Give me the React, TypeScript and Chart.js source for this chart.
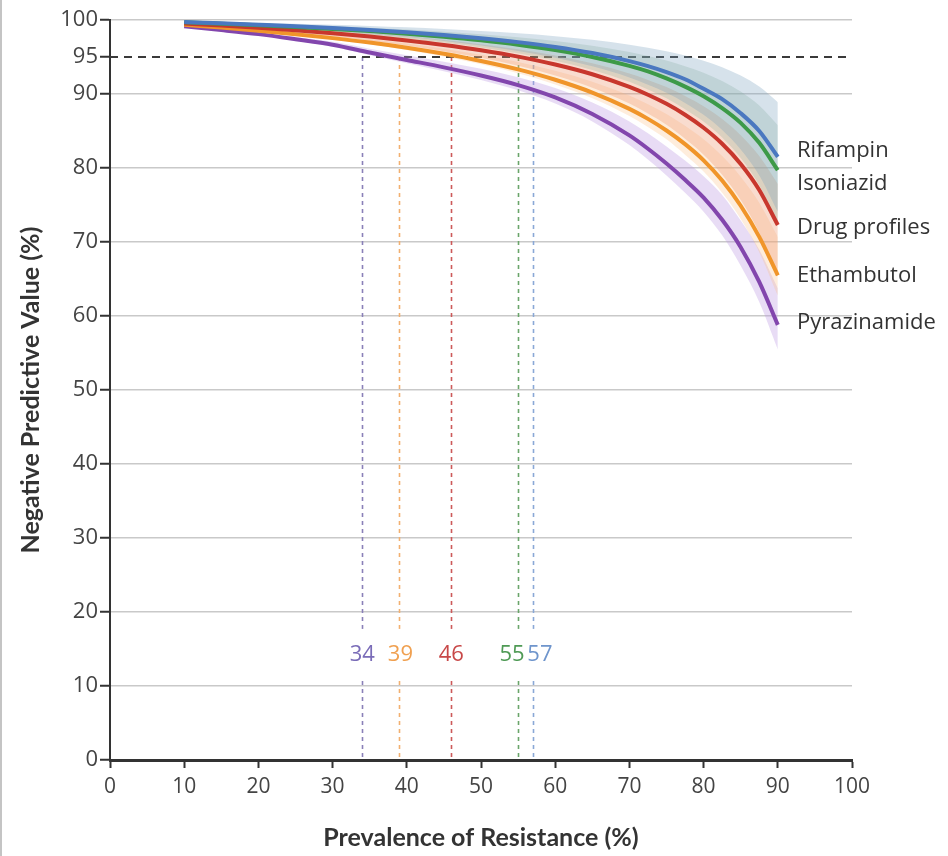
import { useEffect, useRef } from "react";
import { Chart, registerables } from "chart.js";

Chart.register(...registerables);

// ---- data ----
const prevalence = [10, 15, 20, 25, 30, 35, 40, 45, 50, 55, 60, 65, 70, 72.5, 75, 77.5, 80, 82.5, 85, 87.5, 90];

const rifampin = [99.72, 99.56, 99.37, 99.17, 98.93, 98.66, 98.35, 97.98, 97.54, 97.01, 96.36, 95.53, 94.45, 93.77, 92.97, 92.0, 90.7, 89.3, 87.4, 85.0, 81.5];
const isoniazid = [99.69, 99.5, 99.3, 99.07, 98.8, 98.5, 98.15, 97.74, 97.25, 96.66, 95.93, 95.01, 93.81, 93.05, 92.1, 91.0, 89.7, 88.1, 86.1, 83.4, 79.7];
const drugProfiles = [99.53, 99.25, 98.95, 98.6, 98.21, 97.76, 97.24, 96.63, 95.91, 95.05, 93.99, 92.67, 90.96, 89.9, 88.67, 87.2, 85.44, 83.28, 80.55, 77.03, 72.3];
const ethambutol = [99.35, 98.98, 98.56, 98.09, 97.55, 96.95, 96.25, 95.43, 94.47, 93.33, 91.93, 90.2, 87.99, 86.64, 85.07, 83.23, 81.04, 78.3, 74.9, 70.7, 65.5];
const pyrazinamide = [99.14, 98.64, 98.09, 97.4, 96.65, 95.6, 94.6, 93.6, 92.5, 91.2, 89.54, 87.3, 84.4, 82.6, 80.6, 78.4, 76.0, 73.0, 69.3, 64.6, 58.8];

const rifampinUpper = [99.83, 99.74, 99.62, 99.5, 99.36, 99.2, 99.01, 98.79, 98.52, 98.21, 97.82, 97.32, 96.67, 96.25, 95.78, 95.2, 94.5, 93.63, 92.5, 91.0, 88.9];
const rifampinLower = [99.61, 99.38, 99.12, 98.84, 98.5, 98.12, 97.69, 97.17, 96.56, 95.81, 94.9, 93.74, 92.23, 91.25, 90.16, 88.8, 87.18, 85.13, 82.5, 79.0, 74.1];
const isoniazidUpper = [99.78, 99.65, 99.51, 99.35, 99.16, 98.95, 98.7, 98.42, 98.07, 97.66, 97.15, 96.51, 95.67, 95.13, 94.52, 93.76, 92.88, 91.76, 90.33, 88.43, 85.79];
const isoniazidLower = [99.58, 99.32, 99.05, 98.74, 98.38, 97.97, 97.5, 96.95, 96.29, 95.49, 94.51, 93.26, 91.64, 90.6, 89.43, 87.95, 86.27, 84.11, 81.34, 77.68, 72.6];
const drugProfilesUpper = [99.62, 99.4, 99.16, 98.88, 98.57, 98.21, 97.79, 97.3, 96.73, 96.04, 95.19, 94.14, 92.77, 91.9, 90.94, 89.72, 88.35, 86.62, 84.44, 81.62, 77.83];
const drugProfilesLower = [99.41, 99.06, 98.69, 98.25, 97.76, 97.2, 96.55, 95.79, 94.89, 93.81, 92.49, 90.84, 88.7, 87.35, 85.84, 83.95, 81.8, 79.1, 75.69, 71.29, 65.36];
const ethambutolUpper = [99.45, 99.13, 98.78, 98.38, 97.92, 97.41, 96.81, 96.12, 95.3, 94.33, 93.14, 91.67, 89.79, 88.62, 87.31, 85.7, 83.88, 81.62, 78.83, 75.31, 70.68];
const ethambutolLower = [99.3, 98.9, 98.44, 97.94, 97.35, 96.71, 95.95, 95.06, 94.03, 92.8, 91.28, 89.42, 87.03, 85.55, 83.88, 81.8, 79.52, 76.65, 73.11, 68.63, 62.75];
const pyrazinamideUpper = [99.24, 98.8, 98.32, 97.71, 97.05, 96.13, 95.25, 94.37, 93.4, 92.26, 90.8, 88.85, 86.3, 84.7, 82.9, 81.0, 78.9, 76.36, 72.9, 68.94, 63.73];
const pyrazinamideLower = [99.07, 98.53, 97.94, 97.19, 96.38, 95.25, 94.17, 93.09, 91.9, 90.5, 88.7, 86.3, 83.1, 81.15, 79.0, 76.65, 74.1, 70.9, 66.8, 61.89, 55.48];

const seriesNames = ["Rifampin", "Isoniazid", "Drug profiles", "Ethambutol", "Pyrazinamide"];
const nameAnchors = [82.4, 77.9, 71.9, 65.4, 59.1];

const thresholdValue = 95;
const thresholds = [34, 39, 46, 55, 57];
const thresholdLabels = ["34", "39", "46", "55", "57"];

const yTickValues = [0, 10, 20, 30, 40, 50, 60, 70, 80, 90, 95, 100];
const xTickValues = [0, 10, 20, 30, 40, 50, 60, 70, 80, 90, 100];

// ---- styles ----
const lineColors = ["#4a78c0", "#3d9a48", "#c8372d", "#f0952a", "#8246ad"];
const bandColors = [
  "rgba(120,160,190,0.30)",
  "rgba(140,180,150,0.28)",
  "rgba(238,150,110,0.33)",
  "rgba(250,190,130,0.28)",
  "rgba(185,150,225,0.33)",
];
const thresholdColors = ["#7a6cb8", "#f0a050", "#c84848", "#4f9a55", "#6f95cc"];
const thresholdLineColors = ["#8a80b8", "#f2b070", "#cc5a5a", "#6aa56a", "#8aa8d6"];
const labelOffsets = [0, 1, 0, -6, 7];

const toPts = (arr: number[]) => arr.map((v, i) => ({ x: prevalence[i], y: v }));

const overlay = {
  id: "overlay",
  beforeDatasetsDraw(chart: any) {
    const { ctx, chartArea, scales } = chart;
    const x = scales.x;
    const y = scales.y;
    const y95 = y.getPixelForValue(thresholdValue);
    ctx.save();
    ctx.lineWidth = 1.6;
    ctx.setLineDash([4, 4]);
    thresholds.forEach((t, i) => {
      const px = Math.round(x.getPixelForValue(t)) + 0.5;
      ctx.strokeStyle = thresholdLineColors[i];
      ctx.beginPath();
      ctx.moveTo(px, y95);
      ctx.lineTo(px, chartArea.bottom);
      ctx.stroke();
    });
    ctx.strokeStyle = "#3a3a3a";
    ctx.lineWidth = 2;
    ctx.setLineDash([8, 6]);
    ctx.beginPath();
    ctx.moveTo(chartArea.left, y95);
    ctx.lineTo(chartArea.right, y95);
    ctx.stroke();
    ctx.restore();
  },
  afterDatasetsDraw(chart: any) {
    const { ctx, scales } = chart;
    const x = scales.x;
    const y = scales.y;
    const ly = y.getPixelForValue(14.2);
    ctx.save();
    ctx.font = "22px 'Open Sans', sans-serif";
    ctx.textAlign = "center";
    ctx.textBaseline = "middle";
    thresholds.forEach((t, i) => {
      const px = x.getPixelForValue(t) + labelOffsets[i];
      const w = ctx.measureText(thresholdLabels[i]).width;
      ctx.fillStyle = "#ffffff";
      ctx.fillRect(px - w / 2 - 1, ly - 26, w + 2, 50);
    });
    thresholds.forEach((t, i) => {
      const px = x.getPixelForValue(t) + labelOffsets[i];
      ctx.fillStyle = thresholdColors[i];
      ctx.fillText(thresholdLabels[i], px, ly);
    });
    ctx.restore();
  },
  afterDraw(chart: any) {
    const { ctx, scales, chartArea } = chart;
    const y = scales.y;
    ctx.save();
    ctx.font = "22px 'Open Sans', sans-serif";
    ctx.fillStyle = "#333333";
    ctx.textAlign = "left";
    ctx.textBaseline = "middle";
    seriesNames.forEach((n, i) => {
      ctx.fillText(n, chartArea.right - 55, y.getPixelForValue(nameAnchors[i]));
    });
    ctx.strokeStyle = "#c4c4c4";
    ctx.lineWidth = 2;
    ctx.beginPath();
    ctx.moveTo(1, 0);
    ctx.lineTo(1, chart.height);
    ctx.stroke();
    ctx.restore();
  },
};

export default function App() {
  const ref = useRef<HTMLCanvasElement | null>(null);

  useEffect(() => {
    if (!ref.current) return;
    const mains = [rifampin, isoniazid, drugProfiles, ethambutol, pyrazinamide];
    const uppers = [rifampinUpper, isoniazidUpper, drugProfilesUpper, ethambutolUpper, pyrazinamideUpper];
    const lowers = [rifampinLower, isoniazidLower, drugProfilesLower, ethambutolLower, pyrazinamideLower];

    const datasets: any[] = [];
    mains.forEach((m, i) => {
      datasets.push({
        label: seriesNames[i],
        data: toPts(m),
        borderColor: lineColors[i],
        borderWidth: 4,
        borderCapStyle: "butt",
        pointRadius: 0,
        fill: false,
        cubicInterpolationMode: "monotone",
      });
    });
    uppers.forEach((u, i) => {
      const upperIndex = datasets.length;
      datasets.push({
        label: seriesNames[i] + " upper",
        data: toPts(u),
        borderWidth: 0,
        borderColor: "rgba(0,0,0,0)",
        backgroundColor: bandColors[i],
        pointRadius: 0,
        fill: upperIndex + 1,
        cubicInterpolationMode: "monotone",
      });
      datasets.push({
        label: seriesNames[i] + " lower",
        data: toPts(lowers[i]),
        borderWidth: 0,
        borderColor: "rgba(0,0,0,0)",
        pointRadius: 0,
        fill: false,
        cubicInterpolationMode: "monotone",
      });
    });

    const chart = new Chart(ref.current, {
      type: "line",
      data: { datasets },
      plugins: [overlay],
      options: {
        animation: false,
        responsive: true,
        maintainAspectRatio: false,
        layout: { padding: { top: 20, right: 96, bottom: 0, left: 0 } },
        plugins: { legend: { display: false }, tooltip: { enabled: false } },
        scales: {
          x: {
            type: "linear",
            min: 0,
            max: 100,
            afterBuildTicks: (s: any) => {
              s.ticks = xTickValues.map((v) => ({ value: v }));
            },
            afterFit: (s: any) => {
              s.height = 96;
            },
            grid: {
              drawOnChartArea: false,
              drawTicks: true,
              tickLength: 8,
              tickColor: "#333333",
              tickWidth: 2,
            },
            border: { color: "#333333", width: 3 },
            ticks: {
              color: "#444444",
              font: { family: "'Open Sans', sans-serif", size: 21 },
              padding: 6,
              maxRotation: 0,
            },
            title: {
              display: true,
              text: "Prevalence of Resistance (%)",
              color: "#333333",
              font: { family: "Lato, sans-serif", size: 25, weight: "bold" },
              padding: { top: 0, bottom: 3 },
            },
          },
          y: {
            type: "linear",
            min: 0,
            max: 100,
            afterBuildTicks: (s: any) => {
              s.ticks = yTickValues.map((v) => ({ value: v }));
            },
            afterFit: (s: any) => {
              s.width = 110;
            },
            grid: {
              color: (c: any) => (c.tick && c.tick.value === 95 ? "rgba(0,0,0,0)" : "#c9c9c9"),
              lineWidth: 1.5,
              drawTicks: true,
              tickLength: 10,
              tickColor: "#333333",
              tickWidth: 2,
            },
            border: { color: "#333333", width: 2 },
            ticks: {
              color: "#444444",
              font: { family: "'Open Sans', sans-serif", size: 22 },
              padding: 2,
            },
            title: {
              display: true,
              text: "Negative Predictive Value (%)",
              color: "#333333",
              font: { family: "Lato, sans-serif", size: 25, weight: "bold" },
              padding: { top: 16, bottom: 0 },
            },
          },
        },
      },
    });
    return () => chart.destroy();
  }, []);

  return (
    <div style={{ position: "absolute", left: 0, top: 0, width: 948, height: 856, background: "#fff" }}>
      <canvas ref={ref} />
    </div>
  );
}
